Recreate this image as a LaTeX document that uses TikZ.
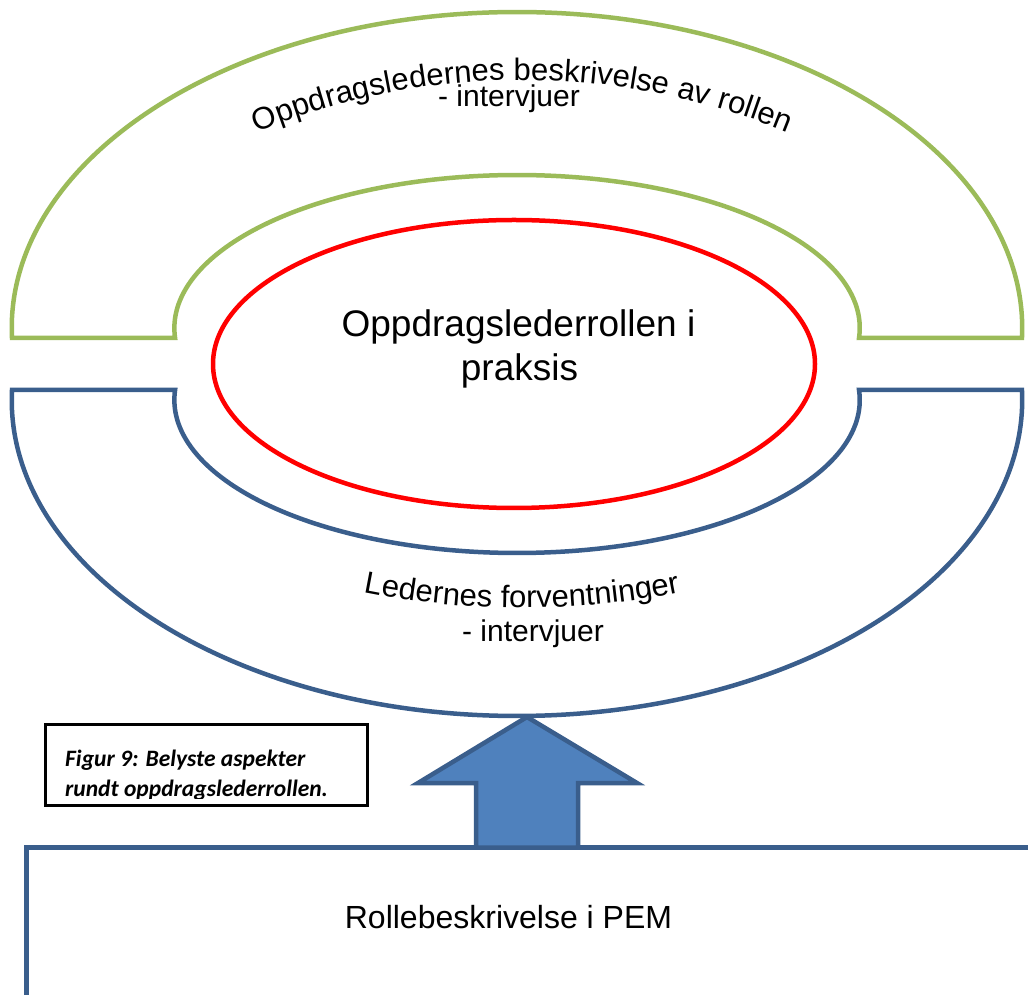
\documentclass[tikz,border=0pt]{standalone}
\usepackage{fontspec}
\setmainfont{Liberation Sans}
\newfontfamily\capfont{Carlito}
\usetikzlibrary{decorations.text,shapes.geometric}
\definecolor{archgreen}{HTML}{9BBB59}
\definecolor{archblue}{HTML}{3A5E8C}
\definecolor{arrowfill}{HTML}{4F81BD}
\newcommand\arcfont{\fontsize{31}{31}\selectfont}
\newcommand\lowfont{\fontsize{30}{30}\selectfont}
\newcommand\lowarcfont{\fontsize{31}{31}\selectfont}
\begin{document}
\begin{tikzpicture}[x=1pt,y=1pt,line join=miter,
  greenarch/.style={draw=archgreen,line width=4.5pt},
  bluearch/.style={draw=archblue,line width=4.5pt},
  label/.style={inner sep=0pt,anchor=base},
  caption/.style={inner sep=0pt,anchor=base west,font=\capfont\bfseries\itshape\fontsize{23.5}{28}\selectfont}]
\useasboundingbox (0,0) rectangle (1028,994);

% upper block arc (interviews with the project leaders)
\draw[greenarch] (12,656)
  arc[start angle=181.813,end angle=-1.813,x radius=505.25,y radius=316]
  -- (859,656)
  arc[start angle=-3.748,end angle=183.748,x radius=342.7,y radius=153]
  -- cycle;

% lower block arc (interviews with the managers)
\draw[bluearch] (12,604)
  arc[start angle=178.187,end angle=361.813,x radius=505.25,y radius=316]
  -- (859,604)
  arc[start angle=3.748,end angle=-183.748,x radius=342.7,y radius=153]
  -- cycle;

% the role in practice
\node[ellipse,draw=red,line width=4.5pt,minimum width=602,minimum height=288,inner sep=0pt] (core) at (514,630) {};
\node[label,font=\fontsize{37}{44}\selectfont] (coreA) at (518.5,657) {Oppdragslederrollen i};
\node[label,font=\fontsize{37}{44}\selectfont] (coreB) at (519.5,613) {praksis};

% curved captions of the two arcs
\path[decorate,decoration={text along path,text align=center,
  text={|\arcfont|Oppdragsledernes beskrivelse av rollen}}]
  (522,214) ++(117:700) arc[start angle=117,end angle=63,radius=700];
\node[label,font=\lowfont] (topsub) at (509,887) {- intervjuer};

\path[decorate,decoration={text along path,text align=center,
  text={|\lowarcfont|Ledernes forventninger}}]
  (522,1194) ++(250:808) arc[start angle=250,end angle=290,radius=808];
\node[label,font=\lowfont] (lowsub) at (533,352) {- intervjuer};

% base box: role description
\draw[archblue,line width=5pt] (26.5,-10) -- (26.5,146.5) -- (1040,146.5);
\node[label,font=\fontsize{32}{38}\selectfont] (pem) at (508.5,66) {Rollebeskrivelse i PEM};

% block arrow from the base box up to the lower arc
\draw[archblue,fill=arrowfill,line width=4.5pt]
  (476,146.5) -- (476,211) -- (418,211) -- (527,277) -- (637,211)
  -- (578,211) -- (578,146.5) -- cycle;

% figure caption, its second line cut off by the frame
\begin{scope}
  \clip (45,195.5) rectangle (367,269);
  \node[caption] (capA) at (65,228) {Figur 9: Belyste aspekter};
  \node[caption] (capB) at (65,197.5) {rundt oppdragslederrollen.};
\end{scope}
\draw[line width=3pt] (45,189) rectangle (367,269);
\end{tikzpicture}
\end{document}
